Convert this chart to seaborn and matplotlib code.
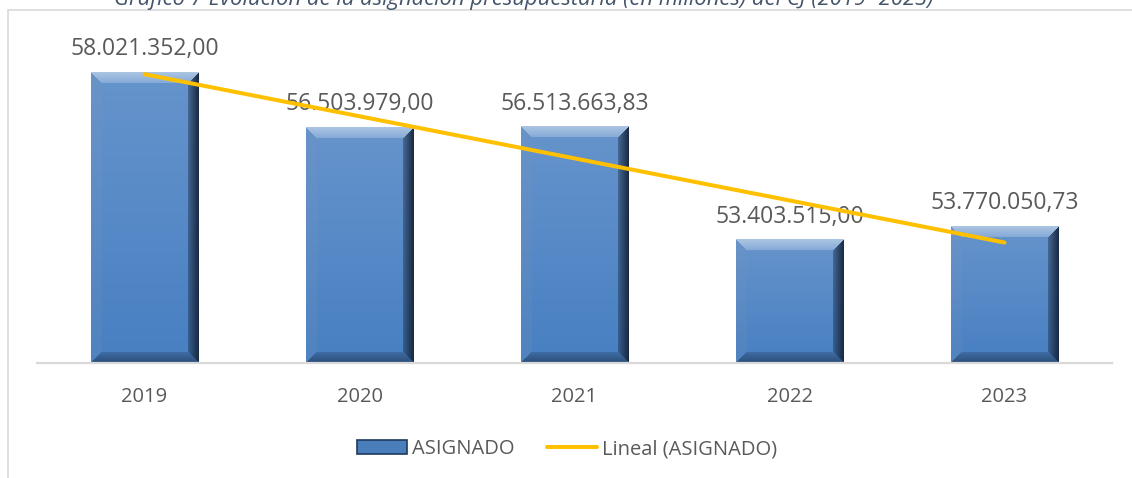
import numpy as np
import pandas as pd
import matplotlib
matplotlib.use("Agg")
import matplotlib.pyplot as plt
from matplotlib.patches import Rectangle, Patch
from matplotlib.lines import Line2D
import seaborn as sns

# ---- data ----
years = ["2019", "2020", "2021", "2022", "2023"]
asignado = [58021352.00, 56503979.00, 56513663.83, 53403515.00, 53770050.73]
labels = ["58.021.352,00", "56.503.979,00", "56.513.663,83", "53.403.515,00", "53.770.050,73"]
title = "Gráfico 7 Evolución de la asignación presupuestaria (en millones) del CJ (2019- 2023)"
series_name = "ASIGNADO"
trend_name = "Lineal (ASIGNADO)"

sns.set_theme(style="white")
plt.rcParams["font.family"] = ["Open Sans", "DejaVu Sans"]

W, H = 1132, 478
fig = plt.figure(figsize=(W / 100, H / 100), dpi=100)
ax_left, ax_right = 37 / W, 1112 / W
ax_bottom = (H - 363) / H
ax_top = (H - 36.6) / H
ax = fig.add_axes([ax_left, ax_bottom, ax_right - ax_left, ax_top - ax_bottom])

df = pd.DataFrame({"year": years, "value": asignado})
base_col = "#5A8CC8"
sns.barplot(data=df, x="year", y="value", width=0.5, color=base_col,
            saturation=1, ax=ax, zorder=2)

ylo, yhi = 50_000_000, 59_000_000
ax.set_xlim(-0.5, 4.5)
ax.set_ylim(ylo, yhi)

# bevel gradient overlay on each bar
def bevel_image(wpx, hpx, b=11):
    hpx = max(int(round(hpx)), 2 * b + 2)
    wpx = max(int(round(wpx)), 2 * b + 2)
    top = np.array([0.40, 0.58, 0.80])
    bot = np.array([0.28, 0.50, 0.76])
    t = np.linspace(0, 1, hpx)[:, None, None]
    img = top * (1 - t) + bot * t
    img = np.broadcast_to(img, (hpx, wpx, 3)).copy()
    ii, jj = np.mgrid[0:hpx, 0:wpx]
    dt, db = ii, hpx - 1 - ii
    dl, dr = jj, wpx - 1 - jj
    d = np.stack([dt, db, dl, dr])
    face = np.argmin(d, axis=0)
    dmin = np.min(d, axis=0)
    inb = dmin < b
    frac = np.clip(dmin / b, 0, 1)
    white = np.array([1.0, 1.0, 1.0])
    dark = np.array([0.09, 0.15, 0.24])
    # top face: lighter, fading toward inner edge
    m = inb & (face == 0)
    k = (0.45 - 0.25 * frac[m])[:, None]
    img[m] = img[m] * (1 - k) + white * k
    # left face: slightly greyish
    m = inb & (face == 2)
    img[m] = img[m] * 0.85 + np.array([0.50, 0.58, 0.70]) * 0.15
    # bottom face: darker
    m = inb & (face == 1)
    k = (0.55 - 0.35 * frac[m])[:, None]
    img[m] = img[m] * (1 - k) + dark * k
    # right face: strongly darker toward edge
    m = inb & (face == 3)
    k = (0.95 - 0.6 * frac[m])[:, None]
    img[m] = img[m] * (1 - k) + dark * k
    return np.clip(img, 0, 1)

fig.canvas.draw()
for p in list(ax.patches):
    x0 = p.get_x()
    x1 = x0 + p.get_width()
    y0 = max(p.get_y(), ylo)
    y1 = p.get_y() + p.get_height()
    (px0, py0), (px1, py1) = ax.transData.transform([(x0, y0), (x1, y1)])
    img = bevel_image(abs(px1 - px0), abs(py1 - py0))
    ax.imshow(img, extent=(x0, x1, y0, y1), aspect="auto", zorder=2.5,
              interpolation="bilinear", origin="upper")
    p.set_edgecolor("none")

ax.set_xlim(-0.5, 4.5)
ax.set_ylim(ylo, yhi)

# linear trendline
xs = np.arange(len(asignado))
coef = np.polyfit(xs, np.array(asignado), 1)
trend = np.polyval(coef, xs)
sns.lineplot(x=xs, y=trend, color="#FFC000", linewidth=2.9, ax=ax, zorder=5)

# data labels
txt_col = "#595959"
for i, (v, lab) in enumerate(zip(asignado, labels)):
    ax.annotate(lab, (i, v), xytext=(0, 16.5), textcoords="offset points",
                ha="center", va="center", fontsize=16.5, color=txt_col, zorder=3)

# axes styling
for s in ["top", "right", "left"]:
    ax.spines[s].set_visible(False)
ax.spines["bottom"].set_color("#D9D9D9")
ax.spines["bottom"].set_linewidth(1.6)
ax.spines["bottom"].set_zorder(6)
ax.set_yticks([])
ax.set_xlabel("")
ax.set_ylabel("")
ax.tick_params(axis="x", length=0, pad=17, labelsize=14.5, labelcolor=txt_col)
ax.set_facecolor("none")

# legend
handles = [Patch(facecolor="#4A7EBB", edgecolor="#1F3A5F", linewidth=1.2),
           Line2D([0], [0], color="#FFC000", linewidth=2.9)]
fig.legend(handles, [series_name, trend_name], loc="center",
           bbox_to_anchor=(567 / W, 1 - 449 / H), ncol=2, frameon=False,
           fontsize=14.5, labelcolor=txt_col, handlelength=2.5, handleheight=0.72,
           handletextpad=0.25, columnspacing=1.6)

# outer border (chart area)
fig.patches.append(Rectangle((8 / W, -0.2), 1.2, 1.2 - 10 / H,
                             transform=fig.transFigure, fill=False,
                             edgecolor="#D9D9D9", linewidth=1.2, zorder=0))

# caption title (clipped at top)
fig.text(524 / W, 1 - 5 / H, title, ha="center", va="baseline",
         fontsize=15.8, style="italic", color="#44546A")

fig.savefig("out.png", dpi=100)
